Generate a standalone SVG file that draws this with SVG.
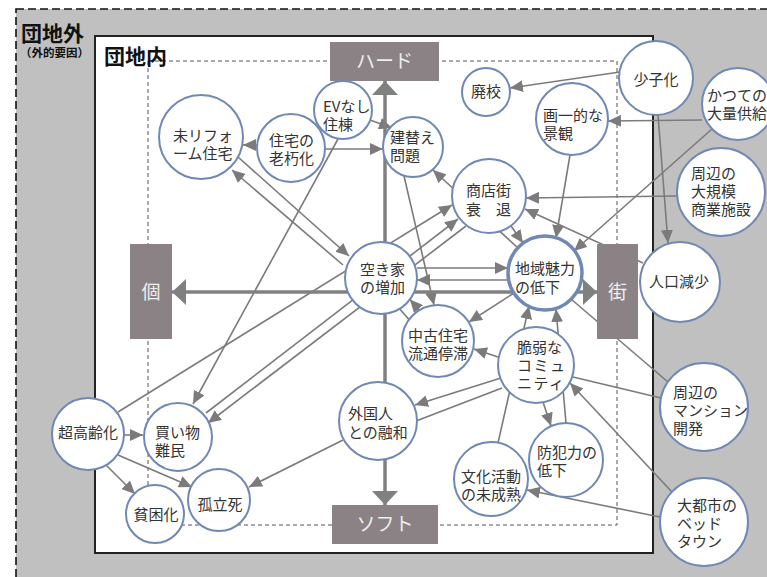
<svg xmlns="http://www.w3.org/2000/svg" width="767" height="577" viewBox="0 0 767 577">
<style>
.t{font-family:"Noto Sans CJK JP","Noto Sans",sans-serif;font-size:15px;fill:#333}
.ttl{font-family:"Noto Sans CJK JP","Noto Sans",sans-serif;font-weight:bold;fill:#111}
.ax{font-family:"Noto Sans CJK JP","Noto Sans",sans-serif;font-size:19px;fill:#eeeeee;text-anchor:middle}
.n circle{fill:#fff;stroke:#7088b4;stroke-width:2}
.c path{fill:none;stroke:#7b7b7b;stroke-width:1.6}
.c .a{marker-end:url(#ah)}
.axl{fill:none;stroke:#808080;stroke-width:3.5}
.box{fill:#8b8286}
</style>
<defs>
<marker id="ah" markerUnits="userSpaceOnUse" markerWidth="13" markerHeight="12" refX="13" refY="6" orient="auto"><path d="M0,0 L13,6 L0,12 z" fill="#7b7b7b"/></marker>
<marker id="axh" markerUnits="userSpaceOnUse" markerWidth="14" markerHeight="26" refX="14" refY="13" orient="auto"><path d="M0,0 L14,13 L0,26 z" fill="#808080"/></marker>
</defs>
<rect x="16" y="9" width="760" height="580" fill="#c0c0c0" stroke="#111" stroke-width="1.6" stroke-dasharray="8,4"/>
<rect x="95" y="36" width="558" height="517" fill="#fff" stroke="#222" stroke-width="2"/>
<rect x="148" y="61" width="469" height="464" fill="none" stroke="#555" stroke-width="1" stroke-dasharray="4,3"/>
<text class="ttl" x="21" y="41" font-size="21">団地外</text>
<text class="ttl" x="20" y="57" font-size="11.5">（外的要因）</text>
<text class="ttl" x="104" y="64" font-size="21">団地内</text>
<g id="connectors" class="c">
<path class="a" d="M257,145 L243,145"/>
<path class="a" d="M326,149 L383,149"/>
<path class="a" d="M370,120 L392,128"/>
<path class="a" d="M338,139 L193,404"/>
<path class="a" d="M238,157 L349,256"/>
<path class="a" d="M343,265 L232,170"/>
<path class="a" d="M118,412 L452,205"/>
<path class="a" d="M206,413 L458,219"/>
<path class="a" d="M466,226 L208,423"/>
<path class="a" d="M124,435 L143,435"/>
<path class="a" d="M106,465 L135,494"/>
<path class="a" d="M118,455 L192,487"/>
<path class="a" d="M343,440 L249,487"/>
<path class="a" d="M419.5,310.2 L409.9,299.4"/>
<path d="M399.5,308.8 L409.1,319.6"/>
<path class="a" d="M404,176 L434,305"/>
<path class="a" d="M417,268 L508,268"/>
<path class="a" d="M508,280 L417,280"/>
<path class="a" d="M514,293 L469,322"/>
<path class="a" d="M498,357 L474,349"/>
<path class="a" d="M498,443 L529,306"/>
<path class="a" d="M566,423 L556,309"/>
<path class="a" d="M543,402 L551,426"/>
<path class="a" d="M501,378 L415,405"/>
<path d="M416,421 L502,388"/>
<path d="M661,398 L573,377"/>
<path d="M668,382 L571,299"/>
<path class="a" d="M672,492 L570,383"/>
<path class="a" d="M660,517 L527,490"/>
<path class="a" d="M643,263 L525,209"/>
<path class="a" d="M620,72 L510,88"/>
<path class="a" d="M658,115 L668,243"/>
<path class="a" d="M702,120 L608,121"/>
<path class="a" d="M712,129 L574,251"/>
<path class="a" d="M677,196 L526,198"/>
<path class="a" d="M570,155 L556,238"/>
<path class="a" d="M511,226 L523,243"/>
<path class="a" d="M518,248 L433,170"/>
</g>
<g id="axes">
<path class="axl" d="M385,292 L385,81" marker-end="url(#axh)"/>
<path class="axl" d="M385,292 L385,505" marker-end="url(#axh)"/>
<path class="axl" d="M385,292 L172,292" marker-end="url(#axh)"/>
<path class="axl" d="M385,292 L597,292" marker-end="url(#axh)"/>
</g>
<g id="hard"><rect class="box" x="330" y="42" width="109" height="39"/><text class="ax" x="384.5" y="68">ハード</text></g>
<g id="soft"><rect class="box" x="332" y="505" width="106" height="39"/><text class="ax" x="385" y="531">ソフト</text></g>
<g id="ko"><rect class="box" x="130" y="244" width="42" height="95"/><text class="ax" x="151" y="299">個</text></g>
<g id="machi"><rect class="box" x="597" y="244" width="41" height="95"/><text class="ax" x="617.5" y="299">街</text></g>
<g id="n-mireform" class="n"><circle cx="201" cy="137" r="42"/><text class="t" x="173" y="141">未リフォ<tspan x="173" y="159">ーム住宅</tspan></text></g>
<g id="n-rouka" class="n"><circle cx="291" cy="148" r="34"/><text class="t" x="269" y="146">住宅の<tspan x="269" y="164">老朽化</tspan></text></g>
<g id="n-ev" class="n"><circle cx="343" cy="110" r="29"/><text class="t" x="323" y="112">EVなし<tspan x="323" y="130">住棟</tspan></text></g>
<g id="n-tatekae" class="n"><circle cx="413" cy="147" r="30"/><text class="t" x="390" y="143">建替え<tspan x="390" y="161">問題</tspan></text></g>
<g id="n-haikou" class="n"><circle cx="486" cy="92" r="24"/><text class="t" x="486" y="97" text-anchor="middle">廃校</text></g>
<g id="n-shoushika" class="n"><circle cx="656" cy="78" r="37"/><text class="t" x="656" y="85" text-anchor="middle">少子化</text></g>
<g id="n-keikan" class="n"><circle cx="572" cy="119" r="36"/><text class="t" x="543" y="121">画一的な<tspan x="543" y="139">景観</tspan></text></g>
<g id="n-kyoukyuu" class="n"><circle cx="738" cy="104" r="36"/><text class="t" x="707" y="101">かつての<tspan x="707" y="119">大量供給</tspan></text></g>
<g id="n-shougyou" class="n"><circle cx="721" cy="192" r="44"/><text class="t" x="691" y="179">周辺の<tspan x="691" y="197">大規模</tspan><tspan x="691" y="215">商業施設</tspan></text></g>
<g id="n-shoutengai" class="n"><circle cx="489" cy="196" r="37"/><text class="t" x="466" y="196">商店街<tspan x="466" y="215">衰　退</tspan></text></g>
<g id="n-miryoku" class="n"><circle cx="545" cy="273" r="37" style="stroke-width:3.5"/><text class="t" x="515" y="274">地域魅力<tspan x="515" y="293">の低下</tspan></text></g>
<g id="n-jinkou" class="n"><circle cx="680" cy="282" r="40"/><text class="t" x="679" y="287" text-anchor="middle">人口減少</text></g>
<g id="n-akiya" class="n"><circle cx="381" cy="278" r="36"/><text class="t" x="360" y="275">空き家<tspan x="360" y="293">の増加</tspan></text></g>
<g id="n-chuko" class="n"><circle cx="438" cy="341" r="36"/><text class="t" x="408" y="341">中古住宅<tspan x="408" y="359">流通停滞</tspan></text></g>
<g id="n-zeijaku" class="n"><circle cx="536" cy="365" r="38"/><text class="t" x="517" y="353">脆弱な<tspan x="517" y="371" letter-spacing="1.5">コミュ</tspan><tspan x="517" y="389" letter-spacing="1.5">ニティ</tspan></text></g>
<g id="n-mansion" class="n"><circle cx="704" cy="407" r="44"/><text class="t" x="673" y="398">周辺の<tspan x="673" y="416">マンション</tspan><tspan x="673" y="434">開発</tspan></text></g>
<g id="n-bedtown" class="n"><circle cx="704" cy="522" r="44"/><text class="t" x="677" y="511">大都市の<tspan x="677" y="529">ベッド</tspan><tspan x="677" y="547">タウン</tspan></text></g>
<g id="n-bouhan" class="n"><circle cx="566" cy="460" r="37"/><text class="t" x="537" y="458">防犯力の<tspan x="537" y="476">低下</tspan></text></g>
<g id="n-bunka" class="n"><circle cx="491" cy="479" r="37"/><text class="t" x="461" y="482">文化活動<tspan x="461" y="500">の未成熟</tspan></text></g>
<g id="n-gaikoku" class="n"><circle cx="378" cy="421" r="39"/><text class="t" x="348" y="419">外国人<tspan x="348" y="438">との融和</tspan></text></g>
<g id="n-koureika" class="n"><circle cx="88" cy="434" r="36"/><text class="t" x="88" y="438" text-anchor="middle">超高齢化</text></g>
<g id="n-kaimono" class="n"><circle cx="178" cy="437" r="34"/><text class="t" x="155" y="438">買い物<tspan x="155" y="456">難民</tspan></text></g>
<g id="n-hinkon" class="n"><circle cx="155" cy="514" r="29"/><text class="t" x="156" y="520" text-anchor="middle">貧困化</text></g>
<g id="n-koritsu" class="n"><circle cx="219" cy="500" r="31"/><text class="t" x="220" y="510" text-anchor="middle">孤立死</text></g>
</svg>
